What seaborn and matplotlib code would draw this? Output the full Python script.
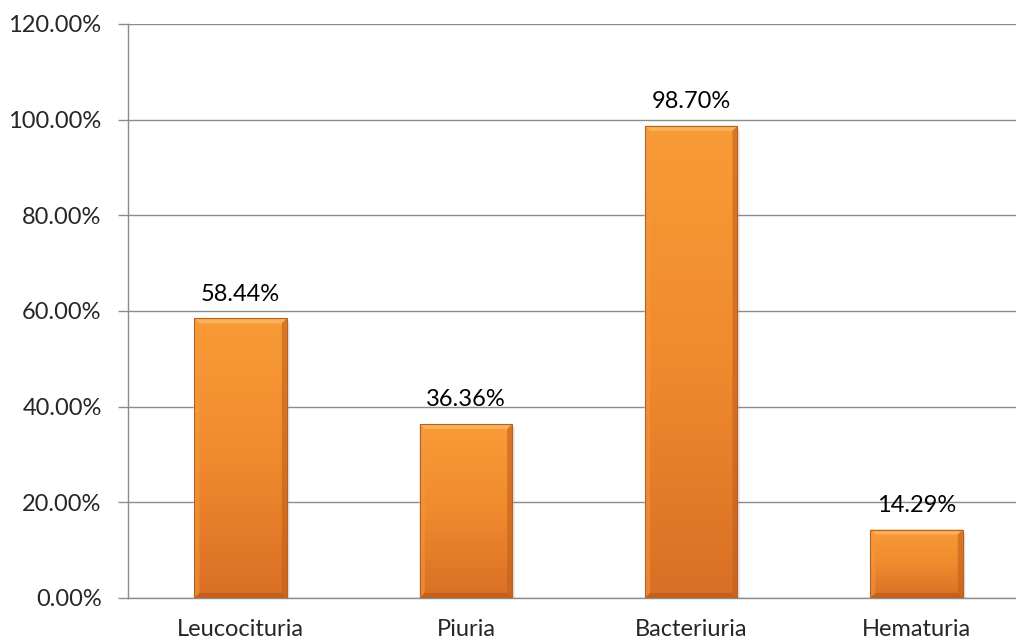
import numpy as np
import pandas as pd
import matplotlib
matplotlib.use("Agg")
import matplotlib.pyplot as plt
import seaborn as sns
from matplotlib.colors import LinearSegmentedColormap
from matplotlib.patches import Polygon, Rectangle

categories = ["Leucocituria", "Piuria", "Bacteriuria", "Hematuria"]
values = [58.44, 36.36, 98.70, 14.29]
y_ticks = [0, 20, 40, 60, 80, 100, 120]

sns.set_theme(style="white")
plt.rcParams["font.family"] = ["Lato", "DejaVu Sans"]
FS = 17

fig = plt.figure(figsize=(10.16, 6.43), dpi=100)
ax = fig.add_axes([0.126, 0.070, 0.887, 0.8927])

df = pd.DataFrame({"cat": categories, "val": values})
sns.barplot(data=df, x="cat", y="val", ax=ax, color="#F28C2E",
            width=0.41, saturation=1, zorder=3)

ax.set_xlim(-0.5, len(categories) - 0.5)
ax.set_ylim(0, 120)

# size of one pixel in data units, for the bevel and shadow
fig.canvas.draw()
bb = ax.get_window_extent()
px = (ax.get_xlim()[1] - ax.get_xlim()[0]) / bb.width
py = (ax.get_ylim()[1] - ax.get_ylim()[0]) / bb.height

cmap = LinearSegmentedColormap.from_list("orange_shade", ["#D96F25", "#F08A2E", "#F99B37"])
grad = np.linspace(0, 1, 256).reshape(-1, 1)
b = 5  # bevel width in pixels
for patch in list(ax.patches):
    x0, y0 = patch.get_x(), patch.get_y()
    w, h = patch.get_width(), patch.get_height()
    x1, y1 = x0 + w, y0 + h
    # soft shadow
    for k, a in [(4, 0.05), (3, 0.07), (2, 0.09)]:
        ax.add_patch(Rectangle((x0 + 1 * px, y0 - k * py), w + k * px * 0.5, h,
                               facecolor="#555555", alpha=a, lw=0, zorder=2.5))
    im = ax.imshow(grad, extent=[x0, x1, y0, y1], origin="lower",
                   cmap=cmap, aspect="auto", zorder=4)
    im.set_clip_path(patch)
    bx, by = b * px, b * py
    # top face lighter, bottom and right darker, left slightly light
    ax.add_patch(Polygon([(x0, y1), (x1, y1), (x1 - bx, y1 - by), (x0 + bx, y1 - by)],
                         facecolor="#FBB05A", lw=0, zorder=5))
    ax.add_patch(Polygon([(x0, y0), (x0, y1), (x0 + bx, y1 - by), (x0 + bx, y0 + by)],
                         facecolor="#F39A40", alpha=0.55, lw=0, zorder=5))
    ax.add_patch(Polygon([(x1, y0), (x1, y1), (x1 - bx, y1 - by), (x1 - bx, y0 + by)],
                         facecolor="#C0601C", alpha=0.6, lw=0, zorder=5))
    ax.add_patch(Polygon([(x0, y0), (x1, y0), (x1 - bx, y0 + by), (x0 + bx, y0 + by)],
                         facecolor="#B0561A", alpha=0.55, lw=0, zorder=5))
    ax.add_patch(Rectangle((x0, y0), w, h, facecolor="none", edgecolor="#B8601F",
                           lw=0.8, zorder=6))
    ax.annotate(f"{h:.2f}%", (x0 + w / 2, y1), xytext=(0, 10), textcoords="offset points",
                ha="center", va="bottom", fontsize=FS, color="#000000", zorder=7)

ax.set_yticks(y_ticks)
ax.set_yticklabels([f"{t:.2f}%" for t in y_ticks], fontsize=FS)
ax.yaxis.grid(True, color="#8C8C8C", lw=1, zorder=0)
ax.set_axisbelow(True)

ax.set_xticks(range(len(categories)))
ax.set_xticklabels(categories, fontsize=FS)
ax.tick_params(axis="x", length=0, pad=15)
ax.set_xticks(np.arange(-0.5, len(categories) + 0.5, 1), minor=True)
ax.tick_params(axis="x", which="minor", length=7, width=1, color="#8C8C8C", direction="out")
ax.tick_params(axis="y", length=7, width=1, color="#8C8C8C", direction="out", left=True, pad=12)

ax.set_xlabel("")
ax.set_ylabel("")
for side in ["top", "right"]:
    ax.spines[side].set_visible(False)
for side in ["left", "bottom"]:
    ax.spines[side].set_color("#8C8C8C")
    ax.spines[side].set_linewidth(1)

fig.savefig("out.png", dpi=100)
